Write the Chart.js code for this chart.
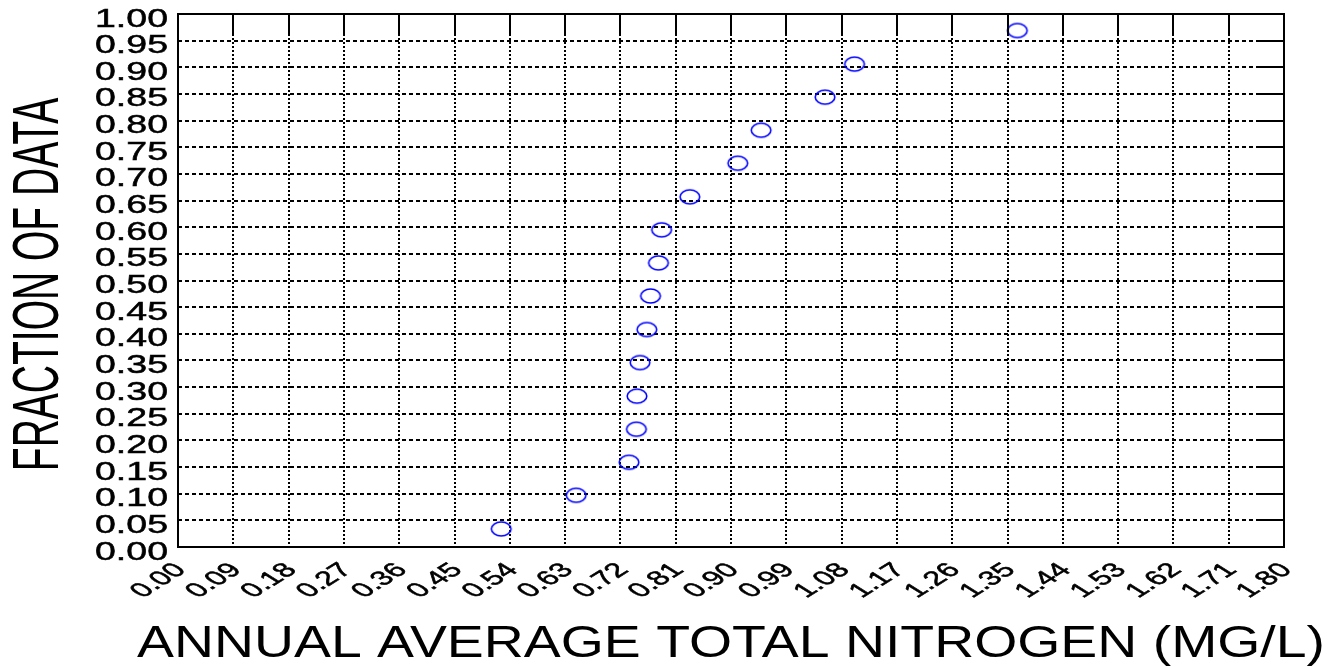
<!DOCTYPE html>
<html>
<head>
<meta charset="utf-8">
<script src="https://cdn.jsdelivr.net/npm/chart.js@4"></script>
<style>
  html, body { margin: 0; padding: 0; background: #fff; }
  #wrap { width: 1341px; height: 667px; }
</style>
</head>
<body>
<div id="wrap"><canvas id="myChart" width="1341" height="667"></canvas></div>
<script>
// values
const nitrogen = [0.526, 0.648, 0.734, 0.746, 0.747, 0.752, 0.763, 0.769, 0.782, 0.787, 0.833, 0.911, 0.949, 1.053, 1.101, 1.366];
const fraction = [0.034, 0.097, 0.159, 0.221, 0.283, 0.346, 0.408, 0.471, 0.533, 0.595, 0.657, 0.720, 0.782, 0.844, 0.906, 0.969];
const xTickLabels = ['0.00','0.09','0.18','0.27','0.36','0.45','0.54','0.63','0.72','0.81','0.90','0.99','1.08','1.17','1.26','1.35','1.44','1.53','1.62','1.71','1.80'];
const yTickLabels = ['0.00','0.05','0.10','0.15','0.20','0.25','0.30','0.35','0.40','0.45','0.50','0.55','0.60','0.65','0.70','0.75','0.80','0.85','0.90','0.95','1.00'];
const xTitle = 'ANNUAL AVERAGE TOTAL NITROGEN (MG/L)';
const yTitle = 'FRACTION OF DATA';

const FONT = '"Liberation Sans", Arial, sans-serif';

// open ellipse marker like the matlab 'o'
const marker = document.createElement('canvas');
marker.width = 24; marker.height = 18;
(() => {
    const c = marker.getContext('2d');
    c.strokeStyle = '#0000ff'; c.lineWidth = 1.6;
    c.beginPath(); c.ellipse(12, 9, 9.8, 7, 0, 0, Math.PI * 2); c.stroke();
})();

const setTicks = labels => scale => { scale.ticks = labels.map(l => ({ value: parseFloat(l) })); };

// filled text with a thin outline so the stretched glyphs keep their weight
const heavyText = (ctx, s) => { ctx.fillText(s, 0, 0); ctx.strokeText(s, 0, 0); };

const frame = {
    id: 'frame',
    afterDraw(chart) {
        const ctx = chart.ctx, a = chart.chartArea;
        const xs = chart.scales.x, ys = chart.scales.y;
        ctx.save();
        ctx.strokeStyle = '#000'; ctx.lineWidth = 2;
        ctx.strokeRect(a.left, a.top, a.right - a.left, a.bottom - a.top);
        // tick marks on top and right
        ctx.beginPath();
        xTickLabels.forEach(l => { const px = Math.round(xs.getPixelForValue(parseFloat(l))); ctx.moveTo(px, a.top); ctx.lineTo(px, a.top + 22); });
        yTickLabels.forEach(l => { const py = Math.round(ys.getPixelForValue(parseFloat(l))); ctx.moveTo(a.right - 28, py); ctx.lineTo(a.right, py); });
        ctx.stroke();

        ctx.fillStyle = '#000';
        ctx.lineWidth = 0.5;
        // y tick labels, stretched sideways
        ctx.font = '25px ' + FONT;
        ctx.textAlign = 'right'; ctx.textBaseline = 'alphabetic';
        yTickLabels.forEach(l => {
            const py = ys.getPixelForValue(parseFloat(l));
            ctx.save(); ctx.translate(a.left - 10, py + 12.5); ctx.scale(1.5, 1); heavyText(ctx, l); ctx.restore();
        });
        // x tick labels, 45 deg then stretched
        ctx.font = '20px ' + FONT;
        ctx.textAlign = 'right'; ctx.textBaseline = 'middle';
        xTickLabels.forEach(l => {
            const px = xs.getPixelForValue(parseFloat(l));
            ctx.save(); ctx.translate(px + 3, a.bottom + 20); ctx.scale(1.62, 1); ctx.rotate(-Math.PI / 4); heavyText(ctx, l); ctx.restore();
        });
        // axis titles
        ctx.font = '39px ' + FONT;
        ctx.textAlign = 'center'; ctx.textBaseline = 'alphabetic';
        ctx.save(); ctx.translate(58, (a.top + a.bottom) / 2 + 4); ctx.scale(1.67, 1); ctx.rotate(-Math.PI / 2); ctx.fillText(yTitle, 0, 0); ctx.restore();
        ctx.font = '44px ' + FONT;
        const w = ctx.measureText(xTitle).width;
        ctx.save(); ctx.translate(731, 657); ctx.scale(1188 / w, 1); ctx.fillText(xTitle, 0, 0); ctx.restore();
        ctx.restore();
    }
};

new Chart(document.getElementById('myChart'), {
    type: 'scatter',
    data: {
        datasets: [{
            data: nitrogen.map((x, i) => ({ x, y: fraction[i] })),
            pointStyle: marker,
            pointRadius: 10,
            pointHoverRadius: 10
        }]
    },
    options: {
        responsive: false,
        animation: false,
        layout: { padding: { left: 178, top: 14, right: 57, bottom: 120 } },
        plugins: { legend: { display: false }, tooltip: { enabled: false } },
        scales: {
            x: {
                type: 'linear', min: 0, max: 1.8,
                afterBuildTicks: setTicks(xTickLabels),
                ticks: { display: false, padding: 0 },
                grid: { color: '#000', lineWidth: 2, drawTicks: false },
                border: { display: false, dash: [2, 2] }
            },
            y: {
                type: 'linear', min: 0, max: 1,
                afterBuildTicks: setTicks(yTickLabels),
                ticks: { display: false, padding: 0 },
                grid: { color: '#000', lineWidth: 2, drawTicks: false },
                border: { display: false, dash: [4, 3] }
            }
        }
    },
    plugins: [frame]
});
</script>
</body>
</html>
